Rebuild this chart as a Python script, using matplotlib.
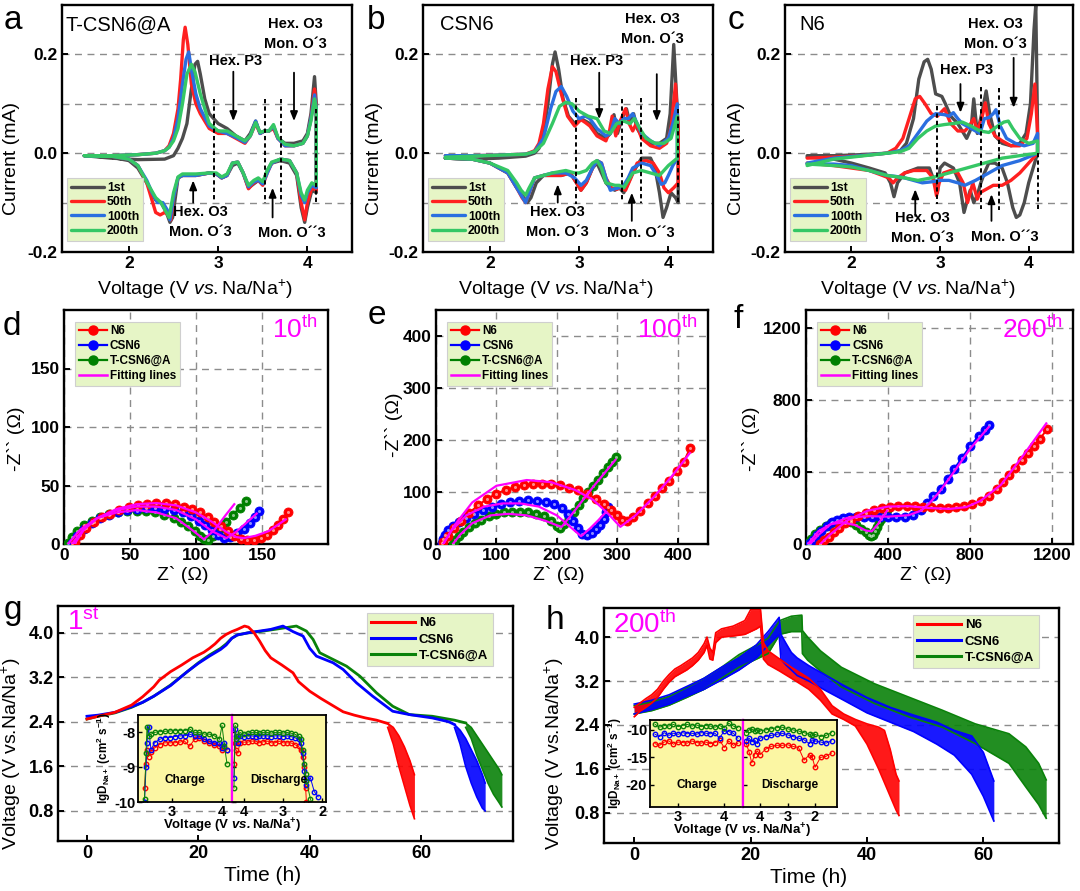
import numpy as np
import matplotlib
matplotlib.use("Agg")
import matplotlib.pyplot as plt
from matplotlib.lines import Line2D

plt.rcParams['font.family'] = ['Liberation Sans', 'DejaVu Sans']
plt.rcParams['mathtext.fontset'] = 'custom'
plt.rcParams['mathtext.rm'] = 'Liberation Sans'
plt.rcParams['mathtext.it'] = 'Liberation Sans:italic'
plt.rcParams['mathtext.bf'] = 'Liberation Sans:bold'
plt.rcParams['mathtext.sf'] = 'Liberation Sans:bold:italic'
plt.rcParams['axes.unicode_minus'] = False

# ====================== CV data (voltage V, current mA) ======================
cv_labels = ['1st', '50th', '100th', '200th']
cv_colors = ['#4d4d4d', '#ff2020', '#2a6fe0', '#35c765']

a_1st_up = [(1.50,-0.005),(1.8,-0.01),(2.1,-0.013),(2.4,-0.012),(2.5,-0.005),(2.55,0.01),(2.6,0.03),(2.65,0.06),(2.7,0.13),(2.74,0.18),(2.77,0.186),(2.8,0.16),(2.85,0.11),(2.9,0.08),(3.0,0.06),(3.1,0.05),(3.2,0.035),(3.3,0.025),(3.36,0.04),(3.42,0.065),(3.47,0.04),(3.52,0.045),(3.57,0.045),(3.62,0.055),(3.67,0.03),(3.75,0.02),(3.85,0.02),(3.95,0.025),(4.0,0.04),(4.04,0.08),(4.08,0.155),(4.1,0.1)]
a_1st_dn = [(4.1,-0.08),(4.05,-0.075),(4.0,-0.11),(3.97,-0.14),(3.93,-0.11),(3.88,-0.045),(3.8,-0.02),(3.7,-0.015),(3.6,-0.02),(3.55,-0.035),(3.5,-0.06),(3.45,-0.055),(3.4,-0.062),(3.34,-0.07),(3.28,-0.04),(3.22,-0.02),(3.16,-0.025),(3.1,-0.045),(3.04,-0.05),(2.98,-0.042),(2.9,-0.04),(2.75,-0.045),(2.6,-0.045),(2.55,-0.05),(2.52,-0.09),(2.49,-0.13),(2.46,-0.14),(2.42,-0.12),(2.36,-0.1),(2.3,-0.095),(2.2,-0.06),(2.1,-0.03),(2.0,-0.015),(1.8,-0.008),(1.5,-0.005)]
a_50_up = [(1.5,-0.005),(1.8,-0.005),(2.1,-0.003),(2.3,0.0),(2.4,0.005),(2.45,0.015),(2.5,0.04),(2.55,0.09),(2.58,0.15),(2.61,0.23),(2.63,0.255),(2.66,0.22),(2.7,0.14),(2.75,0.1),(2.8,0.08),(2.9,0.05),(3.0,0.04),(3.1,0.04),(3.2,0.03),(3.3,0.02),(3.36,0.035),(3.42,0.06),(3.47,0.04),(3.52,0.045),(3.57,0.045),(3.62,0.05),(3.67,0.03),(3.75,0.015),(3.85,0.015),(3.95,0.02),(4.0,0.035),(4.04,0.07),(4.08,0.13),(4.1,0.09)]
a_50_dn = [(4.1,-0.075),(4.05,-0.07),(4.0,-0.1),(3.97,-0.135),(3.93,-0.1),(3.88,-0.04),(3.8,-0.015),(3.7,-0.012),(3.6,-0.02),(3.55,-0.04),(3.5,-0.065),(3.45,-0.055),(3.4,-0.06),(3.34,-0.072),(3.28,-0.04),(3.22,-0.018),(3.16,-0.02),(3.1,-0.045),(3.04,-0.05),(2.98,-0.042),(2.9,-0.04),(2.75,-0.045),(2.6,-0.045),(2.55,-0.05),(2.5,-0.09),(2.47,-0.135),(2.44,-0.125),(2.4,-0.12),(2.35,-0.125),(2.3,-0.12),(2.25,-0.09),(2.2,-0.06),(2.1,-0.025),(2.0,-0.012),(1.8,-0.006),(1.5,-0.005)]
a_100_up = [(1.5,-0.005),(1.8,-0.005),(2.1,-0.003),(2.3,0.0),(2.4,0.005),(2.45,0.012),(2.5,0.03),(2.55,0.07),(2.6,0.14),(2.64,0.19),(2.67,0.205),(2.7,0.17),(2.75,0.12),(2.8,0.09),(2.9,0.055),(3.0,0.045),(3.1,0.04),(3.2,0.032),(3.3,0.022),(3.36,0.035),(3.42,0.065),(3.47,0.04),(3.52,0.045),(3.57,0.045),(3.62,0.055),(3.67,0.03),(3.75,0.015),(3.85,0.015),(3.95,0.02),(4.0,0.035),(4.04,0.07),(4.08,0.118),(4.1,0.09)]
a_100_dn = [(4.1,-0.07),(4.05,-0.065),(4.0,-0.08),(3.97,-0.1),(3.93,-0.085),(3.88,-0.04),(3.8,-0.015),(3.7,-0.012),(3.6,-0.02),(3.55,-0.04),(3.5,-0.062),(3.45,-0.055),(3.4,-0.058),(3.34,-0.068),(3.28,-0.04),(3.22,-0.018),(3.16,-0.02),(3.1,-0.045),(3.04,-0.05),(2.98,-0.042),(2.9,-0.04),(2.75,-0.045),(2.6,-0.045),(2.55,-0.05),(2.5,-0.09),(2.46,-0.135),(2.43,-0.115),(2.38,-0.1),(2.32,-0.1),(2.26,-0.08),(2.2,-0.055),(2.1,-0.025),(2.0,-0.012),(1.8,-0.006),(1.5,-0.005)]
a_200_up = [(1.5,-0.005),(1.8,-0.005),(2.1,-0.003),(2.3,0.0),(2.4,0.005),(2.45,0.012),(2.5,0.025),(2.55,0.05),(2.6,0.1),(2.65,0.16),(2.7,0.18),(2.74,0.165),(2.8,0.12),(2.9,0.06),(3.0,0.045),(3.1,0.045),(3.2,0.035),(3.3,0.025),(3.36,0.035),(3.42,0.062),(3.47,0.042),(3.52,0.045),(3.57,0.045),(3.62,0.058),(3.67,0.032),(3.75,0.018),(3.85,0.015),(3.95,0.02),(4.0,0.035),(4.04,0.065),(4.08,0.11),(4.1,0.09)]
a_200_dn = [(4.1,-0.065),(4.05,-0.06),(4.0,-0.075),(3.97,-0.095),(3.93,-0.08),(3.88,-0.04),(3.8,-0.015),(3.7,-0.012),(3.6,-0.018),(3.55,-0.035),(3.5,-0.058),(3.45,-0.05),(3.4,-0.055),(3.34,-0.065),(3.28,-0.04),(3.22,-0.018),(3.16,-0.02),(3.1,-0.042),(3.04,-0.048),(2.98,-0.04),(2.9,-0.04),(2.75,-0.042),(2.6,-0.042),(2.55,-0.048),(2.5,-0.08),(2.45,-0.13),(2.42,-0.12),(2.36,-0.1),(2.3,-0.09),(2.22,-0.065),(2.1,-0.025),(2.0,-0.012),(1.8,-0.006),(1.5,-0.005)]

b_1st_up = [(1.5,-0.01),(1.8,-0.012),(2.1,-0.01),(2.4,-0.006),(2.5,0.0),(2.55,0.01),(2.6,0.04),(2.65,0.1),(2.7,0.18),(2.73,0.205),(2.77,0.17),(2.82,0.11),(2.88,0.075),(2.95,0.06),(3.02,0.07),(3.07,0.065),(3.12,0.06),(3.2,0.04),(3.3,0.03),(3.35,0.04),(3.39,0.078),(3.43,0.04),(3.48,0.07),(3.53,0.09),(3.57,0.06),(3.61,0.08),(3.65,0.05),(3.7,0.035),(3.8,0.02),(3.9,0.02),(3.98,0.03),(4.02,0.08),(4.06,0.22),(4.09,0.12),(4.11,0.05)]
b_1st_dn = [(4.11,-0.1),(4.08,-0.09),(4.03,-0.08),(3.98,-0.11),(3.94,-0.13),(3.9,-0.08),(3.85,-0.03),(3.8,-0.01),(3.7,-0.01),(3.6,-0.04),(3.55,-0.06),(3.5,-0.08),(3.45,-0.07),(3.4,-0.075),(3.35,-0.07),(3.3,-0.06),(3.25,-0.04),(3.2,-0.02),(3.15,-0.03),(3.08,-0.06),(3.02,-0.075),(2.97,-0.06),(2.9,-0.04),(2.8,-0.045),(2.7,-0.045),(2.6,-0.045),(2.52,-0.06),(2.46,-0.09),(2.42,-0.1),(2.38,-0.09),(2.3,-0.07),(2.2,-0.04),(2.0,-0.02),(1.8,-0.012),(1.5,-0.01)]
b_50_up = [(1.5,-0.005),(1.8,-0.005),(2.1,-0.004),(2.4,-0.002),(2.5,0.005),(2.55,0.02),(2.6,0.06),(2.65,0.13),(2.7,0.175),(2.74,0.165),(2.8,0.12),(2.87,0.075),(2.95,0.055),(3.02,0.068),(3.07,0.062),(3.12,0.055),(3.2,0.035),(3.3,0.025),(3.34,0.045),(3.37,0.075),(3.41,0.035),(3.46,0.065),(3.52,0.09),(3.56,0.06),(3.6,0.045),(3.64,0.06),(3.7,0.03),(3.8,0.015),(3.9,0.01),(3.98,0.02),(4.03,0.05),(4.08,0.14),(4.11,0.05)]
b_50_dn = [(4.11,-0.06),(4.06,-0.07),(4.0,-0.08),(3.95,-0.07),(3.9,-0.04),(3.83,-0.02),(3.75,-0.015),(3.65,-0.02),(3.58,-0.05),(3.52,-0.075),(3.47,-0.07),(3.42,-0.073),(3.36,-0.07),(3.3,-0.05),(3.25,-0.02),(3.2,-0.015),(3.15,-0.03),(3.08,-0.06),(3.02,-0.075),(2.97,-0.06),(2.9,-0.04),(2.8,-0.045),(2.7,-0.045),(2.6,-0.045),(2.5,-0.05),(2.44,-0.08),(2.4,-0.1),(2.36,-0.09),(2.3,-0.07),(2.2,-0.04),(2.0,-0.02),(1.8,-0.012),(1.5,-0.01)]
b_100_up = [(1.5,-0.005),(1.8,-0.005),(2.1,-0.004),(2.4,-0.002),(2.5,0.003),(2.6,0.03),(2.68,0.09),(2.74,0.125),(2.8,0.135),(2.86,0.115),(2.93,0.085),(3.0,0.07),(3.07,0.075),(3.12,0.07),(3.2,0.05),(3.3,0.035),(3.35,0.04),(3.4,0.07),(3.45,0.06),(3.5,0.07),(3.55,0.07),(3.6,0.08),(3.65,0.06),(3.7,0.04),(3.8,0.025),(3.9,0.015),(4.0,0.03),(4.05,0.06),(4.1,0.1)]
b_100_dn = [(4.1,-0.01),(4.05,-0.025),(4.0,-0.045),(3.96,-0.06),(3.92,-0.063),(3.87,-0.045),(3.8,-0.025),(3.7,-0.02),(3.6,-0.03),(3.55,-0.05),(3.5,-0.065),(3.45,-0.07),(3.4,-0.072),(3.35,-0.075),(3.3,-0.05),(3.25,-0.02),(3.2,-0.015),(3.15,-0.03),(3.08,-0.055),(3.02,-0.065),(2.95,-0.05),(2.85,-0.04),(2.7,-0.04),(2.6,-0.045),(2.5,-0.05),(2.45,-0.075),(2.4,-0.1),(2.35,-0.085),(2.3,-0.07),(2.2,-0.04),(2.0,-0.02),(1.8,-0.012),(1.5,-0.01)]
b_200_up = [(1.5,-0.008),(1.8,-0.006),(2.1,-0.004),(2.4,-0.002),(2.5,0.003),(2.6,0.02),(2.7,0.06),(2.78,0.095),(2.85,0.103),(2.92,0.1),(3.0,0.085),(3.1,0.075),(3.2,0.07),(3.28,0.045),(3.35,0.04),(3.42,0.06),(3.5,0.065),(3.57,0.06),(3.62,0.07),(3.68,0.05),(3.75,0.03),(3.85,0.02),(3.95,0.02),(4.03,0.03),(4.1,0.075)]
b_200_dn = [(4.1,-0.01),(4.0,-0.025),(3.9,-0.045),(3.8,-0.04),(3.7,-0.035),(3.6,-0.04),(3.55,-0.055),(3.5,-0.07),(3.45,-0.065),(3.4,-0.065),(3.3,-0.06),(3.25,-0.03),(3.2,-0.015),(3.15,-0.02),(3.08,-0.035),(3.0,-0.04),(2.95,-0.04),(2.85,-0.035),(2.7,-0.04),(2.6,-0.045),(2.5,-0.05),(2.44,-0.07),(2.4,-0.085),(2.35,-0.075),(2.3,-0.06),(2.2,-0.035),(2.0,-0.02),(1.8,-0.012),(1.5,-0.01)]

c_1st_up = [(1.5,-0.005),(1.8,-0.005),(2.1,-0.003),(2.4,0.0),(2.55,0.005),(2.62,0.02),(2.7,0.07),(2.76,0.15),(2.82,0.185),(2.86,0.19),(2.9,0.17),(2.95,0.12),(3.02,0.115),(3.06,0.1),(3.12,0.075),(3.2,0.06),(3.3,0.03),(3.35,0.05),(3.38,0.11),(3.42,0.04),(3.47,0.08),(3.52,0.126),(3.56,0.08),(3.62,0.035),(3.7,0.02),(3.8,0.015),(3.9,0.02),(3.97,0.04),(4.02,0.1),(4.06,0.25),(4.08,0.3),(4.1,0.05)]
c_1st_dn = [(4.1,0.0),(4.05,-0.03),(4.0,-0.06),(3.95,-0.1),(3.9,-0.125),(3.86,-0.13),(3.82,-0.11),(3.76,-0.06),(3.7,-0.03),(3.62,-0.02),(3.55,-0.02),(3.5,-0.04),(3.46,-0.06),(3.42,-0.085),(3.38,-0.1),(3.34,-0.075),(3.3,-0.1),(3.27,-0.12),(3.22,-0.06),(3.15,-0.03),(3.05,-0.02),(3.0,-0.03),(2.97,-0.08),(2.94,-0.06),(2.88,-0.03),(2.75,-0.03),(2.6,-0.04),(2.52,-0.06),(2.48,-0.088),(2.44,-0.06),(2.38,-0.04),(2.2,-0.03),(2.0,-0.02),(1.8,-0.012),(1.5,-0.008)]
c_50_up = [(1.5,-0.01),(1.8,-0.008),(2.1,-0.005),(2.4,0.0),(2.5,0.01),(2.58,0.03),(2.65,0.07),(2.72,0.11),(2.77,0.115),(2.83,0.1),(2.9,0.08),(2.97,0.075),(3.05,0.09),(3.12,0.06),(3.2,0.045),(3.28,0.045),(3.33,0.055),(3.38,0.07),(3.42,0.045),(3.47,0.07),(3.51,0.102),(3.55,0.06),(3.62,0.035),(3.7,0.025),(3.8,0.015),(3.9,0.015),(3.98,0.03),(4.03,0.08),(4.07,0.14),(4.1,0.04)]
c_50_dn = [(4.1,0.0),(4.0,-0.02),(3.9,-0.04),(3.8,-0.055),(3.7,-0.065),(3.6,-0.065),(3.5,-0.075),(3.45,-0.08),(3.42,-0.093),(3.37,-0.06),(3.31,-0.1),(3.26,-0.06),(3.2,-0.04),(3.12,-0.035),(3.04,-0.04),(2.99,-0.06),(2.96,-0.086),(2.92,-0.05),(2.85,-0.035),(2.7,-0.035),(2.6,-0.04),(2.52,-0.05),(2.47,-0.06),(2.42,-0.05),(2.35,-0.045),(2.2,-0.035),(2.0,-0.03),(1.8,-0.025),(1.5,-0.02)]
c_100_up = [(1.5,-0.02),(1.8,-0.01),(2.1,-0.005),(2.4,0.0),(2.55,0.005),(2.65,0.015),(2.75,0.04),(2.85,0.065),(2.95,0.08),(3.05,0.078),(3.1,0.075),(3.15,0.082),(3.2,0.07),(3.25,0.06),(3.35,0.05),(3.45,0.04),(3.5,0.07),(3.55,0.072),(3.6,0.08),(3.63,0.088),(3.68,0.055),(3.75,0.03),(3.85,0.02),(3.95,0.015),(4.05,0.02),(4.1,0.04)]
c_100_dn = [(4.1,0.0),(3.9,-0.015),(3.7,-0.025),(3.5,-0.045),(3.4,-0.055),(3.28,-0.065),(3.2,-0.06),(3.1,-0.055),(3.0,-0.055),(2.9,-0.058),(2.8,-0.06),(2.7,-0.055),(2.6,-0.05),(2.5,-0.047),(2.4,-0.045),(2.2,-0.035),(2.0,-0.025),(1.8,-0.022),(1.5,-0.022)]
c_200_up = [(1.5,-0.025),(1.8,-0.012),(2.1,-0.006),(2.4,0.0),(2.55,0.003),(2.65,0.01),(2.75,0.03),(2.85,0.045),(2.95,0.055),(3.05,0.058),(3.15,0.06),(3.25,0.063),(3.35,0.055),(3.45,0.045),(3.55,0.042),(3.65,0.055),(3.72,0.063),(3.77,0.065),(3.82,0.05),(3.9,0.03),(4.0,0.02),(4.1,0.025)]
c_200_dn = [(4.1,0.0),(3.9,-0.005),(3.7,-0.01),(3.5,-0.02),(3.3,-0.03),(3.1,-0.04),(2.9,-0.05),(2.75,-0.055),(2.6,-0.05),(2.4,-0.045),(2.2,-0.035),(2.0,-0.028),(1.8,-0.025),(1.5,-0.022)]

# ====================== EIS data (Z' , -Z'') ======================
eis_labels = ['N6', 'CSN6', 'T-CSN6@A']
eis_colors = ['#ff0000', '#0000ff', '#008000']
fit_color = '#ff00ff'

d_n6 = [(8,2),(12,8),(17,14),(23,19),(29,23),(35,26),(42,29),(49,32),(56,33),(63,34),(70,35),(77,35),(84,34),(91,32),(97,30),(103,27),(109,23),(114,19),(119,15),(124,11),(129,7),(134,4),(139,3),(144,3),(149,5),(154,8),(158,12),(162,16),(166,21),(170,27)]
d_csn6 = [(6,1),(10,7),(15,13),(21,18),(27,22),(34,25),(41,27),(48,29),(55,30),(62,31),(69,31),(76,30),(83,29),(90,27),(96,24),(102,20),(107,16),(112,12),(117,8),(121,5),(126,6),(131,9),(136,13),(141,18),(145,23),(148,28)]
d_tcsn = [(3,1),(6,6),(10,11),(15,16),(21,20),(27,23),(34,26),(41,27),(48,28),(55,28),(62,28),(69,27),(76,25),(83,22),(89,19),(94,15),(99,11),(103,7),(106,4),(109,3),(113,7),(118,13),(123,19),(128,25),(133,31),(138,37)]
d_fit_n6 = [(8,0),(15,12),(25,22),(40,30),(55,34),(70,35),(85,33),(100,27),(112,19),(122,11),(130,6),(136,5),(145,7),(155,11),(168,21)]
d_fit_csn6 = [(6,0),(15,13),(25,22),(40,29),(55,32),(70,32),(85,29),(100,21),(112,11),(123,5),(130,10),(138,18),(146,26)]
d_fit_tcsn = [(3,0),(12,12),(25,22),(40,27),(55,29),(70,27),(85,22),(97,12),(106,4),(114,12),(122,24),(129,34)]

e_n6 = [(12,3),(20,15),(30,30),(42,45),(55,60),(70,75),(85,87),(100,97),(115,104),(130,109),(145,113),(160,115),(175,116),(190,115),(205,113),(220,108),(235,103),(250,96),(265,87),(278,77),(290,66),(300,55),(308,47),(316,45),(326,52),(338,64),(350,78),(362,92),(374,107),(386,122),(398,140),(410,158),(420,184)]
e_csn6 = [(10,2),(12,10),(15,18),(20,26),(28,34),(38,42),(50,50),(63,58),(77,65),(92,71),(107,76),(122,80),(137,83),(152,84),(167,83),(182,81),(196,76),(208,69),(218,58),(227,45),(235,30),(242,20),(250,18),(258,22),(265,28),(272,36),(278,48),(282,62),(285,72)]
e_tcsn = [(28,0),(32,8),(38,16),(45,24),(54,32),(64,40),(75,47),(87,53),(100,58),(113,61),(126,62),(139,62),(152,61),(165,58),(178,53),(190,45),(200,35),(205,30),(212,38),(220,50),(228,62),(236,75),(244,88),(252,100),(260,112),(268,124),(276,136),(284,148),(291,158),(297,168)]
e_fit_n6 = [(12,0),(30,35),(60,80),(100,112),(150,123),(190,119),(230,104),(260,85),(285,58),(305,33),(330,55),(360,90),(390,130),(420,175)]
e_fit_csn6 = [(12,0),(25,25),(50,55),(80,72),(110,78),(140,78),(170,72),(200,55),(220,35),(240,15),(255,30),(268,45),(280,60)]
e_fit_tcsn = [(28,0),(40,18),(60,40),(90,55),(120,58),(150,55),(180,45),(200,36),(208,33),(230,65),(260,110),(297,162)]

f_n6 = [(70,2),(90,20),(110,40),(135,65),(160,90),(190,115),(220,135),(255,155),(290,172),(330,188),(370,200),(410,208),(450,212),(490,212),(530,210),(570,207),(610,204),(650,202),(690,202),(730,204),(770,210),(810,222),(850,240),(890,265),(930,305),(960,345),(990,385),(1020,425),(1050,465),(1080,505),(1110,545),(1140,585),(1175,640)]
f_csn6 = [(20,3),(35,25),(55,50),(75,75),(100,100),(125,120),(150,135),(180,145),(210,150),(245,152),(280,152),(320,150),(360,150),(400,150),(440,151),(480,152),(520,160),(560,190),(590,230),(620,265),(655,304),(690,360),(720,415),(760,480),(800,544),(840,600),(870,635),(891,660)]
f_tcsn = [(10,5),(25,30),(45,55),(70,80),(95,100),(120,115),(145,125),(170,130),(195,128),(220,120),(245,105),(270,85),(290,65),(305,50),(315,45),(325,52),(335,70),(345,95),(355,120),(365,140),(375,160),(385,175),(395,190)]
f_fit_n6 = [(70,0),(120,55),(200,130),(300,185),(400,208),(500,210),(600,200),(700,195),(780,205),(850,240),(950,330),(1050,480),(1170,670)]
f_fit_csn6 = [(20,0),(60,50),(120,110),(200,145),(300,155),(400,152),(500,160),(560,185),(600,225),(650,290),(720,400),(800,530),(890,650)]
f_fit_tcsn = [(10,0),(60,70),(120,110),(180,120),(240,105),(290,75),(320,70),(350,110),(395,185)]

# ====================== GITT data (time h, voltage V) ======================
gitt_labels = ['N6', 'CSN6', 'T-CSN6@A']
gitt_colors = ['#ff0000', '#0000ff', '#0a820a']

g_n6_line = [(0,2.45),(2,2.5),(5,2.57),(8,2.7),(10,2.85),(12,3.03),(13,3.15),(15,3.3),(17,3.42),(19,3.55),(21,3.65),(22,3.72),(23,3.8),(24,3.9),(25,3.97),(26,4.02),(27,4.06),(28.3,4.12),(29,4.1),(30,4.0),(31,3.85),(32,3.68),(33,3.55),(35,3.42),(37,3.28),(38,3.12),(40,2.95),(42,2.82),(44,2.7),(46,2.58),(48,2.52),(50,2.47),(52,2.43),(54,2.37)]
g_n6_band = [(54,2.37,2.3),(55,2.3,2.0),(56,2.15,1.6),(57,1.95,1.25),(58,1.7,0.9),(58.8,1.45,0.66)]
g_csn6_line = [(0,2.5),(2,2.52),(5,2.57),(8,2.67),(10,2.75),(12,2.86),(15,3.05),(18,3.3),(20,3.45),(22,3.58),(24,3.7),(25,3.78),(26,3.9),(27,3.96),(29,4.0),(31,4.03),(33,4.06),(35.2,4.12),(37,4.02),(38.8,3.94),(40,3.72),(41.2,3.58),(44.2,3.46),(46,3.34),(48.4,3.1),(51.3,2.86),(54.9,2.59),(57.9,2.53),(62,2.47),(65,2.4),(66,2.35)]
g_csn6_band = [(66,2.35,2.3),(67,2.25,2.0),(68,2.1,1.6),(69,1.9,1.3),(70,1.7,1.05),(71,1.45,0.85),(71.5,1.3,0.8)]
g_tcsn_line = [(0,2.45),(2,2.5),(5,2.56),(8,2.66),(10,2.75),(12,2.86),(15,3.06),(18,3.3),(20,3.46),(22,3.6),(24,3.72),(25,3.8),(26,3.9),(27,3.96),(29,4.0),(31,4.02),(33,4.05),(35,4.08),(37.6,4.12),(39.4,4.03),(40.6,3.88),(41.8,3.64),(43.6,3.55),(46.6,3.4),(49,3.22),(52,2.92),(54.9,2.68),(57.9,2.53),(62,2.5),(66,2.43),(68,2.38)]
g_tcsn_band = [(68,2.38,2.3),(69,2.3,2.1),(70,2.15,1.8),(71,2.0,1.55),(72,1.85,1.3),(73,1.7,1.1),(74,1.55,0.95),(74.5,1.45,0.87)]

# (time, upper, lower) envelopes of the pulsed 200th-cycle curves
h_n6_band = [(0,2.72,2.55),(1,2.8,2.65),(2,2.88,2.72),(3,2.95,2.8),(4,3.05,2.9),(5,3.2,3.05),(6,3.32,3.18),(7,3.42,3.28),(8,3.48,3.34),(9,3.55,3.4),(10,3.62,3.48),(11,3.72,3.58),(12,3.88,3.72),(12.5,4.0,3.85),(13,3.8,3.6),(13.5,3.72,3.58),(14,4.08,3.9),(15,4.15,4.0),(17,4.2,4.02),(19,4.3,4.05),(20,4.5,4.1),(21,4.5,4.15),(21.7,4.5,4.2),(22.2,3.9,3.6),(23,3.75,3.5),(25,3.6,3.38),(27,3.45,3.25),(30,3.25,3.05),(32,3.05,2.85),(34,2.75,2.6),(36,2.6,2.5),(38,2.5,2.38),(40,2.42,2.05),(42,2.36,1.6),(43,2.3,1.35),(44,1.95,1.1),(45,1.5,0.85),(45.5,1.38,0.75)]
h_csn6_band = [(0,2.78,2.6),(3,2.85,2.68),(6,2.95,2.78),(9,3.1,2.92),(12,3.25,3.05),(15,3.45,3.22),(18,3.62,3.4),(21,3.86,3.62),(23,4.1,3.85),(24.9,4.36,4.05),(25.2,4.05,3.6),(26,3.9,3.5),(27,3.72,3.4),(28,3.62,3.3),(30,3.48,3.2),(33,3.3,3.02),(36,3.12,2.85),(40,2.9,2.62),(44,2.72,2.45),(48,2.58,2.28),(52,2.45,2.05),(55,2.3,1.85),(58,2.2,1.5),(60,1.9,1.1),(61.8,1.38,0.65)]
h_tcsn_band = [(0,2.75,2.6),(3,2.82,2.66),(6,2.92,2.76),(9,3.08,2.9),(12,3.25,3.05),(15,3.45,3.25),(18,3.68,3.45),(21,3.85,3.6),(23,3.98,3.7),(25,4.3,4.05),(27,4.38,4.1),(28.8,4.4,4.1),(28.9,4.12,3.7),(29.8,4.0,3.58),(32,3.75,3.38),(35.6,3.45,3.09),(41.3,3.15,2.79),(47.1,2.91,2.55),(52.9,2.67,2.36),(58.6,2.42,2.06),(64.4,2.24,1.7),(67.3,2.0,1.27),(69.5,1.7,0.95),(70.8,1.4,0.7)]

# ====================== lgD insets ======================
gc_v = [2.45,2.48,2.5,2.53,2.58,2.65,2.75,2.85,2.95,3.05,3.15,3.25,3.35,3.45,3.55,3.65,3.75,3.85,3.95,4.0,4.05,4.1]
gc_n6 = [-9.6,-8.9,-8.5,-8.7,-8.55,-8.45,-8.35,-8.3,-8.3,-8.3,-8.28,-8.25,-8.4,-8.2,-8.15,-8.25,-8.3,-8.35,-8.4,-8.5,-8.45,-8.5]
gc_csn6 = [-10.0,-9.0,-8.3,-7.85,-8.5,-8.3,-8.2,-8.15,-8.15,-8.12,-8.1,-8.1,-8.05,-8.1,-8.1,-8.2,-8.25,-8.3,-8.3,-8.45,-8.3,-8.5]
gc_tcsn = [-9.9,-8.6,-7.85,-8.1,-8.05,-8.0,-7.98,-7.97,-7.96,-7.95,-7.95,-7.95,-7.9,-8.0,-8.0,-8.05,-8.05,-8.1,-8.2,-7.8,-8.4,-8.9]
gd_v = [4.25,4.22,4.2,4.15,4.1,4.0,3.9,3.8,3.7,3.6,3.5,3.4,3.3,3.2,3.1,3.0,2.9,2.8,2.7,2.6,2.55,2.5,2.45,2.42,2.4,2.3,2.2,2.1]
gd_n6 = [-8.9,-8.3,-8.5,-8.6,-8.3,-8.28,-8.28,-8.25,-8.25,-8.3,-8.27,-8.25,-8.3,-8.3,-8.25,-8.3,-8.3,-8.3,-8.35,-8.4,-8.5,-8.7,-9.0,-9.6,-10.0,-10.3,-10.4,-10.5]
gd_csn6 = [-9.3,-7.9,-8.1,-8.3,-8.1,-8.12,-8.1,-8.1,-8.12,-8.1,-8.1,-8.1,-8.12,-8.1,-8.1,-8.12,-8.1,-8.12,-8.15,-8.2,-8.3,-8.6,-9.1,-9.3,-9.5,-9.3,-9.7,-9.85]
gd_tcsn = [-9.6,-7.8,-8.2,-8.1,-8.0,-8.05,-8.02,-8.0,-8.0,-8.02,-8.0,-8.0,-8.02,-8.0,-8.0,-8.02,-8.0,-8.02,-8.05,-8.1,-8.2,-8.5,-8.9,-9.2,-9.4,-9.9,-10.3,-10.5]

hc_v = [2.5,2.6,2.7,2.8,2.9,3.0,3.1,3.2,3.3,3.4,3.5,3.6,3.7,3.8,3.9,4.0,4.1,4.2,4.3]
hc_n6 = [-12.5,-12.8,-12.2,-12.0,-12.6,-12.2,-12.3,-12.4,-12.0,-12.3,-12.4,-12.2,-12.5,-12.3,-11.8,-13.2,-12.0,-12.8,-12.4]
hc_csn6 = [-10.8,-11.2,-10.5,-11.0,-10.6,-10.8,-10.5,-10.7,-10.6,-10.8,-10.5,-10.6,-10.7,-10.6,-11.5,-10.2,-10.3,-10.6,-11.5]
hc_tcsn = [-9.0,-9.5,-9.2,-9.3,-9.0,-9.4,-9.2,-9.0,-9.3,-9.1,-9.4,-9.2,-9.3,-9.5,-9.2,-9.6,-8.8,-9.3,-9.6]
hd_v = [4.5,4.4,4.3,4.2,4.1,4.0,3.8,3.6,3.4,3.2,3.0,2.8,2.6,2.4,2.2,2.1,2.0,1.8,1.6,1.4]
hd_n6 = [-12.5,-14.0,-16.0,-14.5,-13.8,-14.5,-13.5,-13.0,-12.8,-12.8,-12.7,-13.0,-13.2,-15.5,-14.5,-15.0,-16.8,-15.0,-14.8,-14.2]
hd_csn6 = [-12.0,-11.5,-12.2,-11.8,-12.5,-11.5,-11.2,-11.0,-10.8,-10.6,-10.9,-11.2,-11.5,-11.8,-12.5,-11.8,-12.0,-12.2,-12.4,-12.0]
hd_tcsn = [-10.5,-10.0,-9.8,-10.2,-10.0,-10.2,-10.0,-9.8,-9.6,-9.5,-9.8,-10.0,-10.2,-10.5,-10.8,-11.0,-10.8,-11.2,-11.0,-10.5]

# ====================== figure ======================
W, H = 1080, 891
fig = plt.figure(figsize=(W / 100, H / 100), dpi=100)


def rect(x0, y0, x1, y1):
    return [x0 / W, 1 - y1 / H, (x1 - x0) / W, (y1 - y0) / H]


GRID = dict(color='#8c8c8c', ls=(0, (5, 4)), lw=1.0)
LEG_FC = '#e6f5c6'


def style(ax, fs=12.5):
    for s in ax.spines.values():
        s.set_linewidth(1.7)
    ax.tick_params(direction='in', length=4, width=1.4, labelsize=fs, pad=3)
    ax.tick_params(which='minor', length=0)
    for lb in ax.get_xticklabels() + ax.get_yticklabels():
        lb.set_fontweight('bold')


def legend_frame(leg):
    fr = leg.get_frame()
    fr.set_facecolor(LEG_FC)
    fr.set_edgecolor('#cfcfcf')
    fr.set_linewidth(0.8)
    fr.set_alpha(1)


xlabel_v = r'Voltage (V $\mathit{vs.}$Na/Na$^{+}$)'

cv_sets = {
    'a': [a_1st_up, a_1st_dn, a_50_up, a_50_dn, a_100_up, a_100_dn, a_200_up, a_200_dn],
    'b': [b_1st_up, b_1st_dn, b_50_up, b_50_dn, b_100_up, b_100_dn, b_200_up, b_200_dn],
    'c': [c_1st_up, c_1st_dn, c_50_up, c_50_dn, c_100_up, c_100_dn, c_200_up, c_200_dn],
}
cv_rects = {'a': rect(62, 5, 352, 252), 'b': rect(423, 5, 713, 252), 'c': rect(785, 5, 1073, 252)}
cv_names = {'a': 'T-CSN6@A', 'b': 'CSN6', 'c': 'N6'}
cv_name_x = {'a': 0.012, 'b': 0.06, 'c': 0.05}
cv_ylab_x = {'a': -0.145, 'b': -0.138, 'c': -0.138}
cv_annot = {
    'a': dict(p3=(3.2, 0.187, 3.17, 0.165, 0.065), o3top=(3.87, 0.242, 3.85, 0.163, 0.065),
              o3bot=(2.80, -0.14, 2.72, -0.10, -0.055), o33=(3.83, -0.162, 3.61, -0.13, -0.07),
              vlines=[(2.95, 0.11, -0.095), (3.52, 0.11, -0.10), (3.70, 0.11, -0.10), (4.10, 0.09, -0.10)]),
    'b': dict(p3=(3.2, 0.187, 3.225, 0.163, 0.069), o3top=(3.82, 0.252, 3.87, 0.16, 0.065),
              o3bot=(2.76, -0.14, 2.76, -0.10, -0.063), o33=(3.69, -0.162, 3.59, -0.137, -0.08),
              vlines=[(2.97, 0.112, -0.103), (3.48, 0.11, -0.095), (3.69, 0.112, -0.10), (4.11, 0.089, -0.101)]),
    'c': dict(p3=(3.30, 0.168, 3.23, 0.14, 0.082), o3top=(3.62, 0.242, 3.83, 0.193, 0.092),
              o3bot=(2.80, -0.151, 2.72, -0.127, -0.073), o33=(3.73, -0.169, 3.58, -0.137, -0.083),
              vlines=[(2.96, 0.096, -0.103), (3.46, 0.133, -0.113), (3.67, 0.131, -0.115), (4.10, 0.0, -0.114)]),
}

ANN = dict(fontsize=10.5, fontweight='bold', ha='center', va='center', linespacing=1.55)
ARR = dict(arrowstyle='-|>,head_length=0.55,head_width=0.22', color='k', lw=1.3, shrinkA=0, shrinkB=0)

for key in ['a', 'b', 'c']:
    ax = fig.add_axes(cv_rects[key])
    curves = cv_sets[key]
    for i in range(4):
        up = np.array(curves[2 * i]); dn = np.array(curves[2 * i + 1])
        xy = np.vstack([up, dn])
        ax.plot(xy[:, 0], xy[:, 1], color=cv_colors[i], lw=2.4, label=cv_labels[i],
                solid_joinstyle='round', solid_capstyle='round')
    ax.set_xlim(1.25, 4.5)
    ax.set_ylim(-0.2, 0.3)
    ax.set_xticks([2, 3, 4])
    ax.set_yticks([-0.2, 0.0, 0.2])
    ax.set_yticklabels(['-0.2', '0.0', '0.2'])
    ax.set_yticks([-0.1, 0.1], minor=True)
    ax.grid(axis='y', which='both', **GRID)
    ax.set_axisbelow(True)
    style(ax)
    ax.set_xlabel(xlabel_v, fontsize=14, labelpad=0)
    ax.set_ylabel('Current (mA)', fontsize=14)
    ax.yaxis.set_label_coords(cv_ylab_x[key], 0.38)
    ax.xaxis.set_label_coords(0.46, -0.105)
    ax.text(cv_name_x[key], 0.92, cv_names[key], transform=ax.transAxes, fontsize=14.5,
            ha='left', va='center')
    an = cv_annot[key]
    tx, ty, axx, y0, y1 = an['p3']
    ax.text(tx, ty, 'Hex. P3', **ANN)
    ax.annotate('', xy=(axx, y1), xytext=(axx, y0), arrowprops=ARR)
    tx, ty, axx, y0, y1 = an['o3top']
    ax.text(tx, ty, 'Hex. O3\nMon. O\u00b43', **ANN)
    ax.annotate('', xy=(axx, y1), xytext=(axx, y0), arrowprops=ARR)
    tx, ty, axx, y0, y1 = an['o3bot']
    ax.text(tx, ty, 'Hex. O3\nMon. O\u00b43', **ANN)
    ax.annotate('', xy=(axx, y1), xytext=(axx, y0), arrowprops=ARR)
    tx, ty, axx, y0, y1 = an['o33']
    ax.text(tx, ty, 'Mon. O\u00b4\u00b43', **ANN)
    ax.annotate('', xy=(axx, y1), xytext=(axx, y0), arrowprops=ARR)
    for vx, vy0, vy1 in an['vlines']:
        ax.plot([vx, vx], [vy0, vy1], color='k', lw=1.4, ls=(0, (2.2, 1.6)))
    leg = ax.legend(loc='lower left', bbox_to_anchor=(0.018, 0.045), prop={'weight': 'bold', 'size': 8.8},
                    frameon=True, fancybox=False, handlelength=2.7, handletextpad=0.25,
                    labelspacing=0.2, borderpad=0.3, borderaxespad=0)
    legend_frame(leg)

# ---------------- EIS panels ----------------
eis_sets = {
    'd': ([d_n6, d_csn6, d_tcsn], [d_fit_n6, d_fit_csn6, d_fit_tcsn]),
    'e': ([e_n6, e_csn6, e_tcsn], [e_fit_n6, e_fit_csn6, e_fit_tcsn]),
    'f': ([f_n6, f_csn6, f_tcsn], [f_fit_n6, f_fit_csn6, f_fit_tcsn]),
}
eis_rects = {'d': rect(64, 310, 328, 544), 'e': rect(436, 310, 708, 544), 'f': rect(806, 310, 1073, 544)}
eis_lims = {'d': 200, 'e': 450, 'f': 1300}
eis_ticks = {'d': ([0, 50, 100, 150], [0, 50, 100, 150]),
             'e': ([0, 100, 200, 300, 400], [0, 100, 200, 300, 400]),
             'f': ([0, 400, 800, 1200], [0, 400, 800, 1200])}
eis_cycle = {'d': '10', 'e': '100', 'f': '200'}
eis_ylab = {'d': (-0.148, 0.45), 'e': (-0.121, 0.51), 'f': (-0.172, 0.45)}

for key in ['d', 'e', 'f']:
    ax = fig.add_axes(eis_rects[key])
    data, fits = eis_sets[key]
    for i in [2, 1, 0]:
        arr = np.array(data[i])
        ax.plot(arr[:, 0], arr[:, 1], '-o', color=eis_colors[i], lw=1.4, ms=6.5,
                mfc=eis_colors[i], mec=eis_colors[i], mew=0.6, zorder=3)
        ax.plot(arr[:, 0], arr[:, 1], 'o', color='white', ms=2.2, alpha=0.55, mew=0, zorder=3.1)
    for i in range(3):
        arr = np.array(fits[i])
        ax.plot(arr[:, 0], arr[:, 1], '-', color=fit_color, lw=1.6, zorder=4)
    lim = eis_lims[key]
    ax.set_xlim(0, lim)
    ax.set_ylim(0, lim)
    ax.set_xticks(eis_ticks[key][0])
    ax.set_yticks(eis_ticks[key][1])
    ax.grid(True, **GRID)
    ax.set_axisbelow(True)
    style(ax)
    ax.set_xlabel('Z` (\u03a9)', fontsize=14)
    ax.xaxis.set_label_coords(0.45, -0.095)
    ax.set_ylabel('-Z`` (\u03a9)', fontsize=14)
    ax.yaxis.set_label_coords(*eis_ylab[key])
    ax.text(0.962, 0.915, eis_cycle[key] + r'$^{\rm th}$', transform=ax.transAxes, color='#ff00ff',
            fontsize=19, ha='right', va='center')
    handles = [Line2D([], [], color=eis_colors[i], marker='o', lw=1.6, ms=6.5) for i in range(3)]
    handles.append(Line2D([], [], color=fit_color, lw=1.8))
    leg = ax.legend(handles, eis_labels + ['Fitting lines'], loc='upper left', bbox_to_anchor=(0.042, 0.95),
                    prop={'weight': 'bold', 'size': 8.5}, frameon=True, fancybox=False, handlelength=2.4,
                    handletextpad=0.25, labelspacing=0.25, borderpad=0.3, borderaxespad=0)
    legend_frame(leg)

# ---------------- GITT panels ----------------
gitt_ylabel = r'Voltage (V vs.Na/Na$^{+}$)'


def gitt_axes(r, xlim, ylim, ylab_xy):
    ax = fig.add_axes(r)
    ax.set_xlim(*xlim)
    ax.set_ylim(*ylim)
    ax.set_xticks([0, 20, 40, 60])
    ax.set_yticks([0.8, 1.6, 2.4, 3.2, 4.0])
    ax.set_yticklabels(['0.8', '1.6', '2.4', '3.2', '4.0'])
    ax.grid(axis='y', **GRID)
    ax.set_axisbelow(True)
    style(ax, fs=13)
    ax.set_xlabel('Time (h)', fontsize=15)
    ax.xaxis.set_label_coords(0.45, -0.105)
    ax.set_ylabel(gitt_ylabel, fontsize=14)
    ax.yaxis.set_label_coords(*ylab_xy)
    return ax


axg = gitt_axes(rect(58, 606, 513, 841), (-5.2, 76.5), (0.26, 4.48), (-0.076, 0.37))
g_lines = [g_n6_line, g_csn6_line, g_tcsn_line]
g_bands = [g_n6_band, g_csn6_band, g_tcsn_band]
for i in [2, 1, 0]:
    ln = np.array(g_lines[i]); bd = np.array(g_bands[i])
    axg.plot(ln[:, 0], ln[:, 1], color=gitt_colors[i], lw=2.0)
    axg.fill_between(bd[:, 0], bd[:, 2], bd[:, 1], color=gitt_colors[i], lw=0, alpha=0.9)
    axg.plot(bd[:, 0], bd[:, 1], color=gitt_colors[i], lw=1.2)
    axg.plot(bd[:, 0], bd[:, 2], color=gitt_colors[i], lw=1.2)
axg.text(0.02, 0.93, r'1$^{\rm st}$', transform=axg.transAxes, color='#ff00ff', fontsize=20,
         ha='left', va='center')

axh = gitt_axes(rect(604, 608, 1059, 843), (-5.2, 73), (0.25, 4.53), (-0.084, 0.38))
h_bands = [h_n6_band, h_csn6_band, h_tcsn_band]
for i in [2, 1, 0]:
    bd = np.array(h_bands[i])
    axh.fill_between(bd[:, 0], bd[:, 2], bd[:, 1], color=gitt_colors[i], lw=0, alpha=0.9)
    axh.plot(bd[:, 0], bd[:, 1], color=gitt_colors[i], lw=1.2)
    axh.plot(bd[:, 0], bd[:, 2], color=gitt_colors[i], lw=1.2)
axh.text(0.02, 0.93, r'200$^{\rm th}$', transform=axh.transAxes, color='#ff00ff', fontsize=20,
         ha='left', va='center')

for ax in [axg, axh]:
    handles = [Line2D([], [], color=gitt_colors[i], lw=2.2) for i in range(3)]
    leg = ax.legend(handles, gitt_labels, loc='upper right', bbox_to_anchor=(0.956, 0.972),
                    prop={'weight': 'bold', 'size': 9.5}, frameon=True, fancybox=False,
                    handlelength=3.3, handletextpad=0.3, labelspacing=0.3, borderpad=0.35, borderaxespad=0)
    legend_frame(leg)

# ---------------- lgD insets ----------------
INSET_BG = '#fbf6a3'


def inset_pair(rl, rr, xl, xr, yl, yticks, xt_l, xt_r, ch, dis):
    a1 = fig.add_axes(rl, facecolor=INSET_BG)
    a2 = fig.add_axes(rr, facecolor=INSET_BG)
    for ax_, xlim_, xt_, (v, series) in [(a1, xl, xt_l, ch), (a2, xr, xt_r, dis)]:
        for i in [0, 1, 2]:
            ax_.plot(v, series[i], '-o', color=gitt_colors[i], lw=0.7, ms=3.2, mfc='none', mew=1.0)
        ax_.set_xlim(*xlim_)
        ax_.set_ylim(*yl)
        ax_.set_xticks(xt_)
        ax_.set_yticks(yticks)
        for s in ax_.spines.values():
            s.set_linewidth(1.3)
        ax_.tick_params(direction='in', length=3, width=1.0, labelsize=10.5, pad=2)
        for lb in ax_.get_xticklabels() + ax_.get_yticklabels():
            lb.set_fontweight('bold')
    a1.spines['right'].set_color('#ff00ff')
    a1.spines['right'].set_linewidth(1.6)
    a2.spines['left'].set_color('#ff00ff')
    a2.spines['left'].set_linewidth(1.6)
    a2.tick_params(labelleft=False)
    a1.set_ylabel(r'lgD$_{\mathbf{Na+}}$ (cm$^{\mathbf{2}}$ s$^{\mathbf{-1}}$)', fontsize=8.5,
                  fontweight='bold', labelpad=1)
    a1.text(0.5, 0.25, 'Charge', transform=a1.transAxes, fontsize=8.5, fontweight='bold',
            ha='center', va='center')
    a2.text(0.5, 0.25, 'Discharge', transform=a2.transAxes, fontsize=8.5, fontweight='bold',
            ha='center', va='center')
    return a1, a2


inset_pair(rect(138, 715, 232, 802), rect(232, 715, 326, 802), (2.32, 4.2), (4.3, 1.9), (-10, -7.5),
           [-10, -9, -8], [3, 4], [4, 3, 2],
           (gc_v, [gc_n6, gc_csn6, gc_tcsn]), (gd_v, [gd_n6, gd_csn6, gd_tcsn]))
fig.text(0.2148, 0.073, r'Voltage (V $\mathsf{vs.}$Na/Na$^{\mathbf{+}}$)', fontsize=9.5, fontweight='bold',
         ha='center', va='center')

inset_pair(rect(650, 720, 743, 807), rect(743, 720, 837, 807), (2.39, 4.41), (4.62, 1.2), (-24, -8.2),
           [-20, -15, -10], [3, 4], [4, 3, 2],
           (hc_v, [hc_n6, hc_csn6, hc_tcsn]), (hd_v, [hd_n6, hd_csn6, hd_tcsn]))
fig.text(0.687, 0.067, r'Voltage (V $\mathsf{vs.}$Na/Na$^{\mathbf{+}}$)', fontsize=9.5, fontweight='bold',
         ha='center', va='center')

# ---------------- panel letters ----------------
letters = [('a', 4, 29), ('b', 367, 29), ('c', 728, 29), ('d', 3, 335), ('e', 368, 324),
           ('f', 733, 328), ('g', 4, 619), ('h', 546, 629)]
for s, x, y in letters:
    fig.text(x / W, 1 - y / H, s, fontsize=24, ha='left', va='baseline')

fig.savefig('out.png', dpi=100)
